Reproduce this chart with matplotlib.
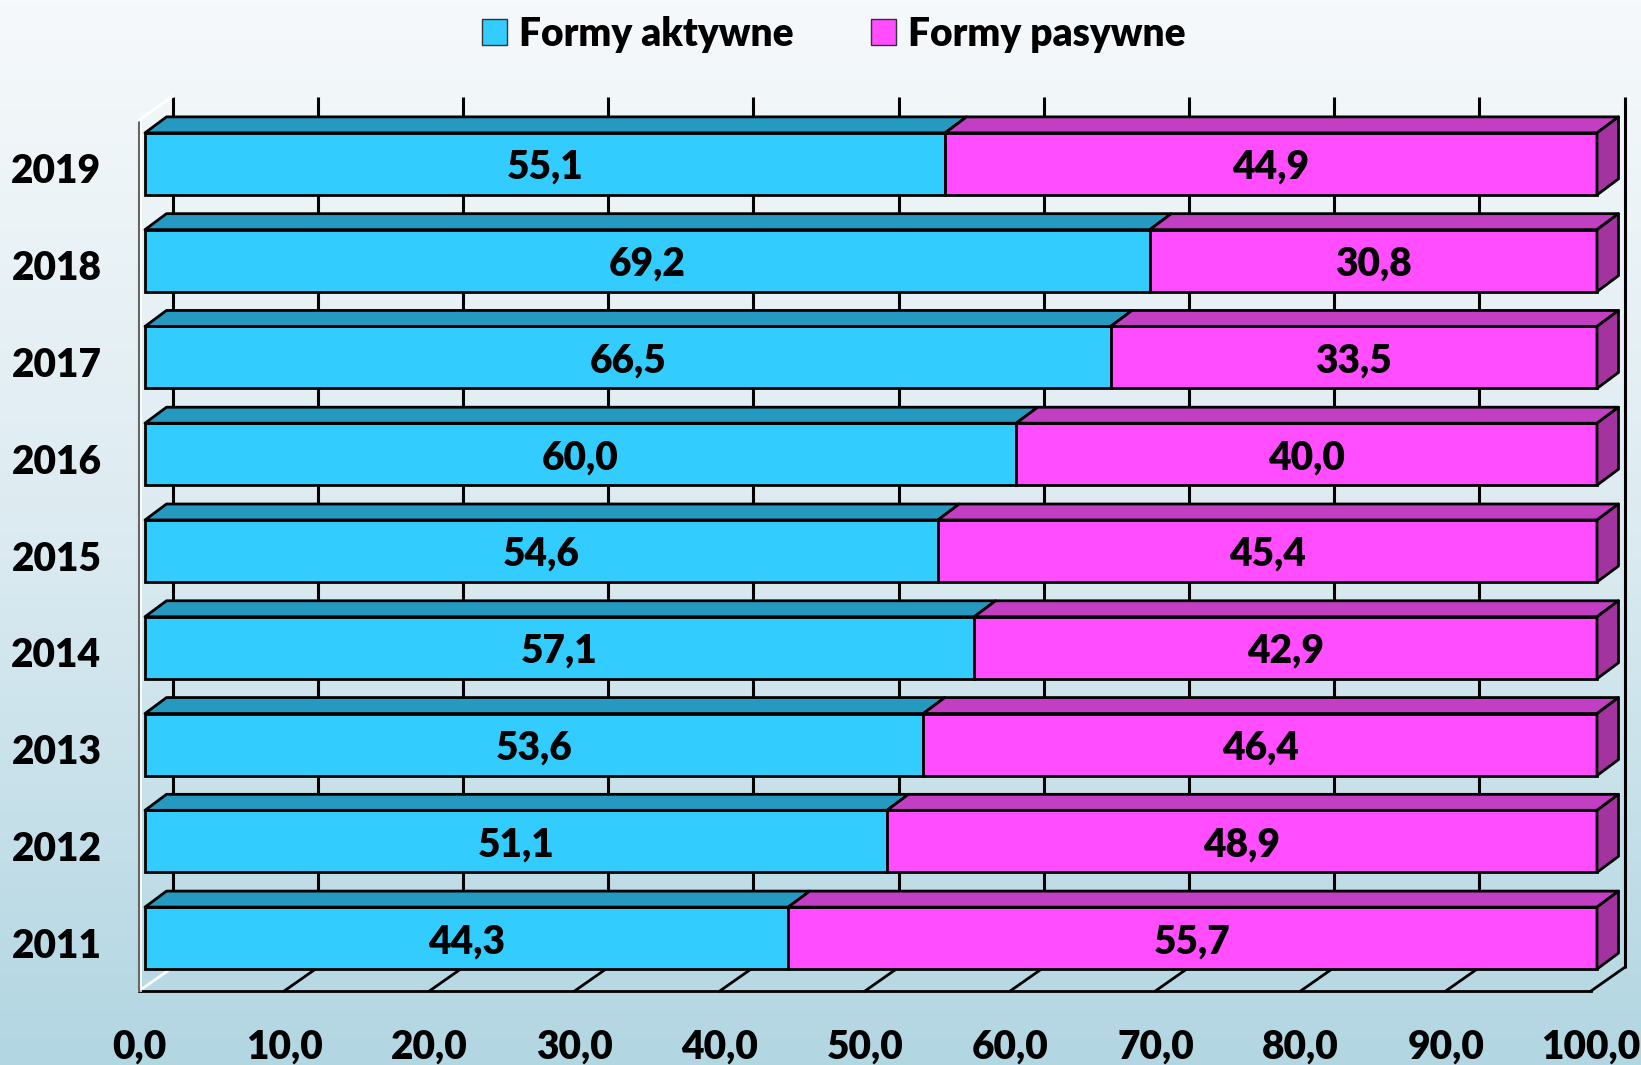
import numpy as np
import matplotlib.pyplot as plt
from matplotlib.patches import Polygon, Patch
from matplotlib.colors import LinearSegmentedColormap

plt.rcParams['font.family'] = ['Lato', 'DejaVu Sans']
plt.rcParams['font.weight'] = 'heavy'

# data
years = ['2011', '2012', '2013', '2014', '2015', '2016', '2017', '2018', '2019']
aktywne = [44.3, 51.1, 53.6, 57.1, 54.6, 60.0, 66.5, 69.2, 55.1]
pasywne = [55.7, 48.9, 46.4, 42.9, 45.4, 40.0, 33.5, 30.8, 44.9]
x_ticks = [0, 10, 20, 30, 40, 50, 60, 70, 80, 90, 100]
series_names = ['Formy aktywne', 'Formy pasywne']

# colours: front, top, side
cyan = ('#33ccff', '#2599c0', '#1f86a8')
magenta = ('#ff4dff', '#c23ec2', '#a3339f')
fsize = 28

W, H = 1641, 1065
fig = plt.figure(figsize=(W / 100, H / 100), dpi=100)

# background gradient
bg = fig.add_axes([0, 0, 1, 1], zorder=-10)
grad = np.linspace(0, 1, 256).reshape(-1, 1)
cmap = LinearSegmentedColormap.from_list('bg', ['#b2d6e2', '#dcebf1', '#f6f9fb'])
bg.imshow(grad, aspect='auto', cmap=cmap, origin='lower', extent=[0, 1, 0, 1])
bg.axis('off')

# front plane of the plot area, in pixels
x0p, x1p, ytop, ybot = 139, 1591, 120, 991
ax = fig.add_axes([x0p / W, (H - ybot) / H, (x1p - x0p) / W, (ybot - ytop) / H])
ax.set_xlim(0, 100)
ax.set_ylim(-0.5, len(years) - 0.5)
ax.patch.set_alpha(0)
for s in ax.spines.values():
    s.set_visible(False)

# pixel -> data units
ux = 100 / (x1p - x0p)
uy = len(years) / (ybot - ytop)
dxw, dyw = 33.5 * ux, 23.5 * uy      # wall depth
dx0, dy0 = 6 * ux, 4.5 * uy          # bar front offset
dxb, dyb = 21.5 * ux, 16 * uy        # bar depth
bh = 62 * uy
yb, yt = -0.5, len(years) - 0.5

# back wall gridlines
for t in x_ticks:
    ax.plot([t + dxw, t + dxw], [yb + dyw, yt + dyw], color='black', lw=2.2,
            zorder=1, clip_on=False, solid_capstyle='butt')
# floor
for t in x_ticks:
    c = 'white' if t == 0 else 'black'
    ax.plot([t, t + dxw], [yb, yb + dyw], color=c, lw=2, zorder=1, clip_on=False)
ax.plot([0, 100], [yb, yb], color='black', lw=2, zorder=1, clip_on=False)
# left wall
ax.plot([0, 0], [yb, yt], color='#666666', lw=1.5, zorder=1, clip_on=False)
ax.plot([0.15, 0.15], [yb, yt], color='white', lw=1.2, zorder=1, clip_on=False)
ax.plot([0, dxw], [yt, yt + dyw], color='white', lw=2, zorder=1, clip_on=False)

# bars
yc = np.arange(len(years)) + dy0
akt = np.array(aktywne)
pas = np.array(pasywne)
ax.barh(yc, akt, left=dx0, height=bh, color=cyan[0], edgecolor='black',
        lw=2, zorder=3, clip_on=False)
ax.barh(yc, pas, left=dx0 + akt, height=bh, color=magenta[0], edgecolor='black',
        lw=2, zorder=3, clip_on=False)

text_dy = -3.5 * uy  # labels sit a little below the face centre
for i in range(len(years)):
    top = yc[i] + bh / 2
    bot = yc[i] - bh / 2
    segs = [(dx0, dx0 + akt[i], cyan), (dx0 + akt[i], dx0 + akt[i] + pas[i], magenta)]
    for a, b, col in segs:
        ax.add_patch(Polygon([(a, top), (b, top), (b + dxb, top + dyb), (a + dxb, top + dyb)],
                             closed=True, facecolor=col[1], edgecolor='black',
                             lw=2, zorder=3, clip_on=False, joinstyle='round'))
    end = dx0 + akt[i] + pas[i]
    ax.add_patch(Polygon([(end, bot), (end, top), (end + dxb, top + dyb), (end + dxb, bot + dyb)],
                         closed=True, facecolor=magenta[2], edgecolor='black',
                         lw=2, zorder=3, clip_on=False, joinstyle='round'))
    ax.text(dx0 + akt[i] / 2, yc[i] + text_dy, f'{akt[i]:.1f}'.replace('.', ','),
            ha='center', va='center', fontsize=fsize, zorder=5)
    ax.text(dx0 + akt[i] + pas[i] / 2, yc[i] + text_dy, f'{pas[i]:.1f}'.replace('.', ','),
            ha='center', va='center', fontsize=fsize, zorder=5)

# axes labels
ax.set_yticks(range(len(years)), years)
ax.set_xticks(x_ticks, [f'{t:.1f}'.replace('.', ',') for t in x_ticks])
ax.tick_params(axis='y', length=0, pad=27, labelsize=fsize)
ax.tick_params(axis='x', length=0, pad=27, labelsize=fsize)

# legend
handles = [Patch(facecolor=cyan[0], edgecolor='#333333', lw=1),
           Patch(facecolor=magenta[0], edgecolor='#333333', lw=1)]
fig.legend(handles, series_names, loc='upper center', bbox_to_anchor=(0.508, 1.0),
           ncol=2, frameon=False, fontsize=fsize, handlelength=0.64, handleheight=0.64,
           handletextpad=0.3, columnspacing=2.0, borderaxespad=0.0)

fig.savefig('out.png', dpi=100)
